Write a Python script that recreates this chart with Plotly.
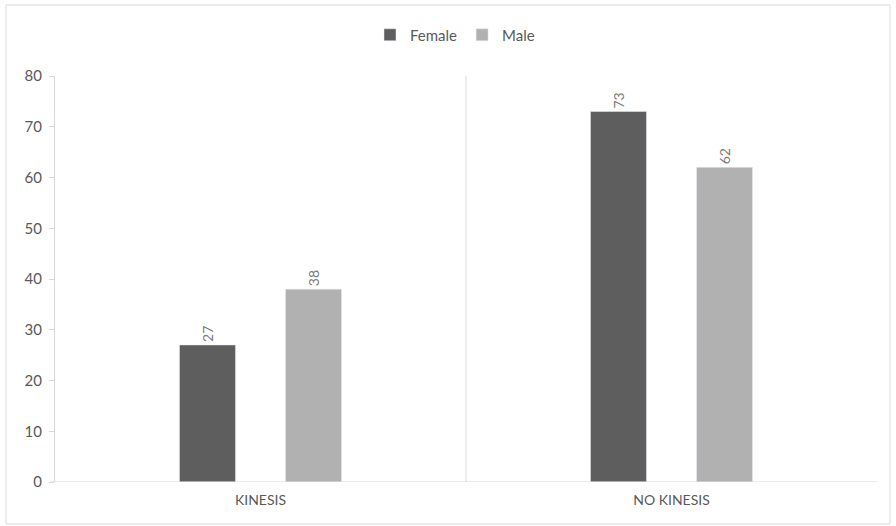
import plotly.graph_objects as go

categories = ["KINESIS", "NO KINESIS"]
female = [27, 73]
male = [38, 62]
y_ticks = [0, 10, 20, 30, 40, 50, 60, 70, 80]

text_color = "#595959"
label_color = "#7a7a7a"
font_family = "Lato, 'Open Sans', sans-serif"

fig = go.Figure()
fig.add_trace(go.Bar(
    name="Female", x=categories, y=female, marker_color="#5e5e5e",
    text=[str(v) for v in female], textposition="outside", textangle=-90,
    textfont=dict(size=14, color=label_color), cliponaxis=False,
))
fig.add_trace(go.Bar(
    name="Male", x=categories, y=male, marker_color="#b1b1b1",
    text=[str(v) for v in male], textposition="outside", textangle=-90,
    textfont=dict(size=14, color=label_color), cliponaxis=False,
))

L, R, T, B = 55, 19, 76, 44
W, H = 896, 526
pw, ph = W - L - R, H - T - B


def px_to_paper_x(px):
    return (px - L) / pw


def px_to_paper_y(py):
    return (H - B - py) / ph


fig.update_layout(
    width=W, height=H,
    margin=dict(l=L, r=R, t=T, b=B),
    paper_bgcolor="white", plot_bgcolor="white",
    barmode="group", bargap=0.484, bargroupgap=0.472,
    font=dict(family=font_family, size=15, color=text_color),
    legend=dict(
        orientation="h", x=px_to_paper_x(455), xanchor="center",
        y=px_to_paper_y(35), yanchor="middle",
        font=dict(size=15, color=text_color),
        itemwidth=30, traceorder="normal",
    ),
    xaxis=dict(
        range=[-0.5, 1.5], showgrid=False, zeroline=False,
        showline=False, ticks="",
        tickfont=dict(size=14, color=text_color),
        ticklabelstandoff=8,
    ),
    yaxis=dict(
        range=[0, 80], tickvals=y_ticks, showgrid=False, zeroline=False,
        showline=True, linecolor="#d9d9d9", linewidth=1,
        ticks="outside", ticklen=5, tickcolor="#d9d9d9",
        tickfont=dict(size=15, color=text_color),
        ticklabelstandoff=4,
    ),
    shapes=[
        # category baseline
        dict(type="line", xref="paper", yref="y", x0=px_to_paper_x(50), x1=1,
             y0=0, y1=0, line=dict(color="#d9d9d9", width=1)),
        # separator between categories
        dict(type="line", xref="x", yref="y", x0=0.5, x1=0.5, y0=0, y1=80,
             line=dict(color="#d9d9d9", width=1)),
        # chart border
        dict(type="rect", xref="paper", yref="paper",
             x0=px_to_paper_x(6), x1=px_to_paper_x(890),
             y0=px_to_paper_y(524), y1=px_to_paper_y(5),
             line=dict(color="#d9d9d9", width=1), fillcolor="rgba(0,0,0,0)",
             layer="below"),
    ],
)

fig.write_html("out.html")
